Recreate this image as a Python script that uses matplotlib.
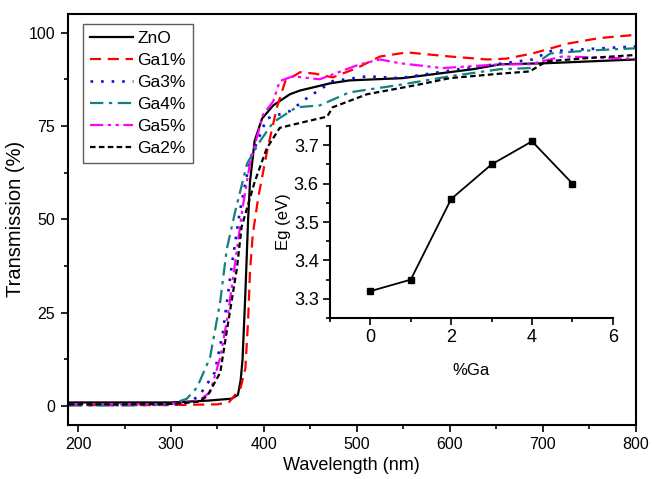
#!/usr/bin/env python3
import matplotlib
matplotlib.use('Agg')
import matplotlib.pyplot as plt
from matplotlib.ticker import MultipleLocator

plt.rcParams['font.family'] = ['Liberation Sans', 'DejaVu Sans']

# transmission spectra (wavelength nm, T %)
zno_wl = [190, 250, 300, 340, 365, 372, 375, 377, 380, 383, 385, 390, 398, 410, 428, 439, 471, 492, 549, 625, 654, 704, 800]
zno_t = [1.0, 1.0, 1.0, 1.5, 2.0, 3.0, 7.0, 12.5, 30, 50, 60, 71, 77, 80.5, 83.5, 84.5, 86.4, 87.2, 87.8, 90.2, 91.5, 91.8, 92.8]

ga1_wl = [190, 250, 300, 350, 362, 367, 375, 380, 383, 385, 388, 394, 404, 414, 423, 439, 455, 474, 500, 525, 554, 600, 640, 660, 689, 726, 760, 800]
ga1_t = [0.3, 0.3, 0.3, 0.5, 1.0, 2.4, 5, 10, 23, 36, 46, 56, 69, 80, 87, 89.4, 89.0, 88.0, 90.5, 93.6, 94.7, 93.6, 92.8, 93.0, 94.4, 97, 98.5, 99.4]

ga3_wl = [190, 250, 300, 320, 331, 347, 356, 365, 374, 385, 403, 428, 446, 474, 511, 546, 618, 689, 708, 750, 800]
ga3_t = [0.3, 0.3, 0.4, 1.0, 3, 9, 20, 37, 52, 66, 77, 79, 82.4, 87.0, 88.3, 87.8, 90.5, 92.8, 95.0, 95.6, 96.3]

ga4_wl = [190, 250, 300, 317, 328, 342, 353, 360, 369, 382, 396, 410, 435, 460, 492, 546, 600, 654, 686, 708, 750, 800]
ga4_t = [0.2, 0.2, 0.5, 2, 5, 13, 28, 42, 52, 65, 71, 76, 80, 80.5, 84, 86, 88.3, 90.2, 90.5, 94.4, 95.2, 95.8]

ga5_wl = [190, 250, 300, 330, 342, 353, 361, 371, 377, 385, 399, 410, 417, 431, 460, 503, 525, 546, 592, 654, 686, 721, 800]
ga5_t = [0.5, 0.5, 0.6, 1.5, 3.7, 13, 24, 42, 53, 65, 78, 81.6, 87, 88.3, 87.5, 91.5, 92.8, 91.8, 90.5, 91.5, 91.5, 93.6, 93.0]

ga2_wl = [190, 250, 300, 330, 339, 353, 360, 371, 376, 390, 403, 417, 442, 468, 474, 511, 565, 600, 654, 686, 704, 750, 800]
ga2_t = [0.5, 0.5, 0.6, 1.2, 2.7, 9, 20, 37, 48, 60, 69, 74.5, 76, 77.5, 80, 83.5, 86, 87.8, 89, 89.6, 92.3, 93.2, 94]

# inset: band gap vs Ga content
ga_pct = [0, 1, 2, 3, 4, 5]
eg = [3.32, 3.35, 3.56, 3.65, 3.71, 3.60]

fig = plt.figure(figsize=(6.52, 4.79), dpi=100)
ax = fig.add_axes([0.104, 0.113, 0.871, 0.858])

ax.plot(zno_wl, zno_t, color='black', linestyle='-', lw=1.6, label='ZnO')
ax.plot(ga1_wl, ga1_t, color='red', linestyle=(0, (5, 3)), lw=1.6, label='Ga1%')
ax.plot(ga3_wl, ga3_t, color='#1010d0', linestyle=(0, (1, 3)), lw=1.9, label='Ga3%')
ax.plot(ga4_wl, ga4_t, color='#108080', linestyle=(0, (6, 2.5, 1.5, 2.5)), lw=1.6, label='Ga4%')
ax.plot(ga5_wl, ga5_t, color='magenta', linestyle=(0, (6, 2, 1.5, 2, 1.5, 2)), lw=1.6, label='Ga5%')
ax.plot(ga2_wl, ga2_t, color='black', linestyle=(0, (2.5, 1.5)), lw=1.6, label='Ga2%')

ax.set_xlim(189, 800)
ax.set_ylim(-5, 105)
ax.xaxis.set_major_locator(MultipleLocator(100))
ax.xaxis.set_minor_locator(MultipleLocator(50))
ax.yaxis.set_major_locator(MultipleLocator(25))
ax.yaxis.set_minor_locator(MultipleLocator(12.5))
ax.tick_params(which='both', direction='out', labelsize=11.5, width=1.2)
ax.tick_params(which='major', length=5, pad=4)
ax.tick_params(which='minor', length=3)
for s in ax.spines.values():
    s.set_linewidth(1.5)
ax.set_xlabel('Wavelength (nm)', fontsize=13, labelpad=3)
ax.set_ylabel('Transmission (%)', fontsize=14.5, labelpad=3)

leg = ax.legend(loc='upper left', bbox_to_anchor=(0.02, 0.985), fontsize=12.5,
                handlelength=2.5, handletextpad=0.25, labelspacing=0.4,
                borderpad=0.4, borderaxespad=0.2, fancybox=False,
                edgecolor='#333333')
leg.get_frame().set_linewidth(1.0)

ins = fig.add_axes([0.506, 0.336, 0.434, 0.401])
ins.plot(ga_pct, eg, color='black', lw=1.3, marker='s', markersize=4.5)
ins.set_xlim(-1, 6)
ins.set_ylim(3.25, 3.75)
ins.spines['top'].set_visible(False)
ins.spines['right'].set_visible(False)
ins.spines['left'].set_linewidth(1.5)
ins.spines['bottom'].set_linewidth(1.5)
ins.xaxis.set_major_locator(MultipleLocator(2))
ins.xaxis.set_minor_locator(MultipleLocator(1))
ins.yaxis.set_major_locator(MultipleLocator(0.1))
ins.yaxis.set_minor_locator(MultipleLocator(0.05))
ins.tick_params(which='both', direction='out', labelsize=13, width=1.2)
ins.tick_params(which='major', length=5, pad=3)
ins.tick_params(which='minor', length=3)
ins.patch.set_alpha(0)
ins.set_xlabel('%Ga', fontsize=12, labelpad=12)
ins.set_ylabel('Eg (eV)', fontsize=12, labelpad=2)

plt.savefig('out.png', dpi=100)
